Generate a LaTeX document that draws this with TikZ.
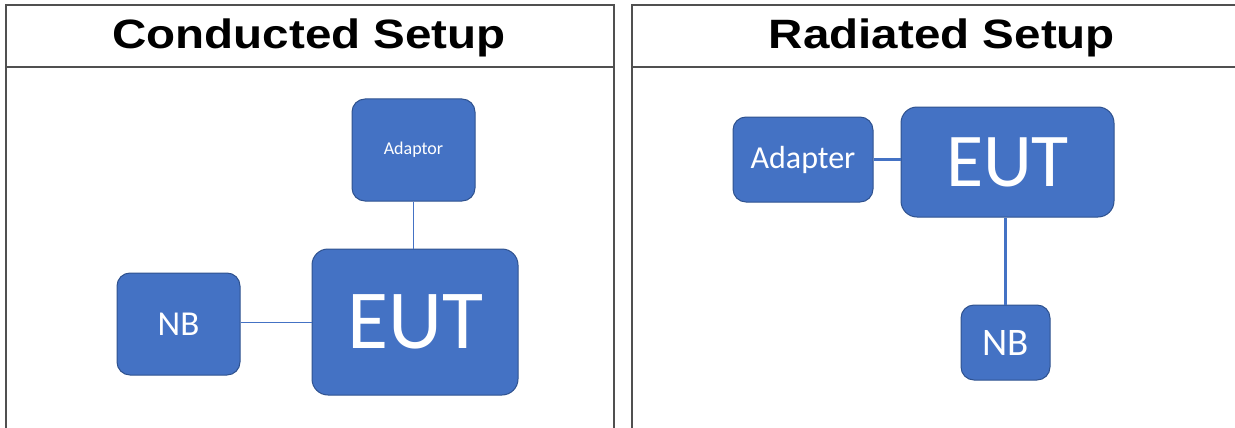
\documentclass[tikz,border=0pt]{standalone}
\usepackage{fontspec}
\setmainfont{Carlito}
\newfontfamily\titlefont{Liberation Sans}
\usetikzlibrary{positioning}
\definecolor{boxblue}{HTML}{4472C4}
\definecolor{boxedge}{HTML}{2F528F}
\definecolor{rulegray}{HTML}{505050}
\tikzstyle{box} = [rectangle, rounded corners=13pt, fill=boxblue, draw=boxedge, line width=1pt, text=white, inner sep=0pt]
\tikzstyle{head} = [anchor=base, font=\titlefont\bfseries\fontsize{41}{41}\selectfont]
\tikzstyle{rule} = [draw=rulegray, line width=1.3pt]
\newcommand{\wide}[1]{\scalebox{1.16}[1]{#1}}

\begin{document}
\begin{tikzpicture}[x=1pt, y=-1pt]
\useasboundingbox (0,0) rectangle (1235,428);

% table frames
\draw[rule] (6,428) -- (6,5) -- (614,5) -- (614,428);
\draw[rule] (6,67) -- (614,67);
\draw[rule] (1235,5) -- (632,5) -- (632,428);
\draw[rule] (632,67) -- (1235,67);

\node (headL) [head] at (309,49) {\wide{Conducted Setup}};
\node (headR) [head] at (942,49) {\wide{Radiated Setup}};

% conducted
\node (adaptorL) [box, minimum width=123pt, minimum height=102pt, font=\fontsize{18}{18}\selectfont] at (413.5,150) {Adaptor};
\node (eutL) [box, rounded corners=16pt, minimum width=206pt, minimum height=146pt, font=\fontsize{84}{84}\selectfont] at (415,322) {EUT};
\node (nbL) [box, minimum width=123pt, minimum height=102pt, font=\fontsize{35}{35}\selectfont] at (178.5,324) {NB};

\draw[boxblue, line width=0.9pt] (adaptorL.south) -- (adaptorL.south |- eutL.north);
\draw[boxblue, line width=0.9pt] (nbL.east) ++(0,-2) coordinate (nbLout) -- (nbLout -| eutL.west);

% radiated
\node (eutR) [box, rounded corners=16pt, minimum width=213pt, minimum height=110pt, font=\fontsize{76}{76}\selectfont] at (1007.5,162) {EUT};
\node (adapterR) [box, minimum width=140pt, minimum height=85pt, font=\fontsize{32}{32}\selectfont] at (803,159.5) {Adapter};
\node (nbR) [box, minimum width=89pt, minimum height=75pt, font=\fontsize{39}{39}\selectfont] at (1005.5,342.5) {NB};

\draw[boxblue, line width=3pt] (adapterR.east) -- (adapterR.east -| eutR.west);
\draw[boxblue, line width=3pt] (nbR.north) -- (nbR.north |- eutR.south);
\end{tikzpicture}
\end{document}
